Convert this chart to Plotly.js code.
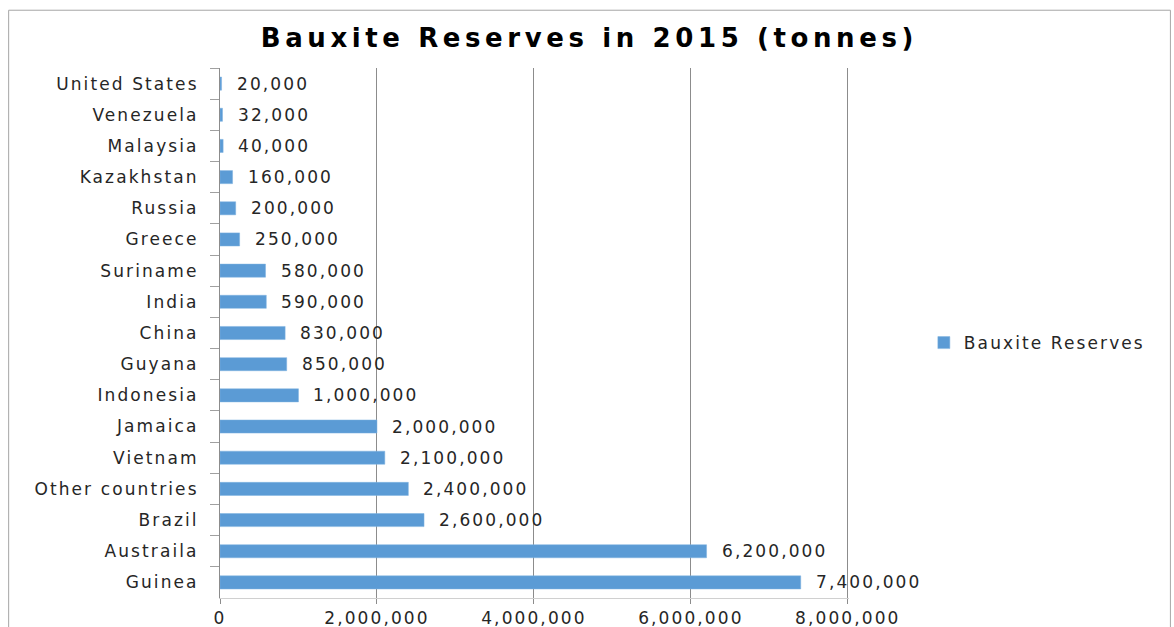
<!DOCTYPE html>
<html>
<head>
<meta charset="utf-8">
<script src="https://cdn.plot.ly/plotly-3.0.1.min.js"></script>
<style>
html,body{margin:0;padding:0;background:#fff}
#chart{width:1174px;height:627px}
.ytick text, .xtick text, text.annotation-text, text.legendtext { letter-spacing: 2.1px; }
text.gtitle { letter-spacing: 4.6px; }
</style>
</head>
<body>
<div id="chart"></div>
<script>
const countries = ["United States","Venezuela","Malaysia","Kazakhstan","Russia","Greece","Suriname","India","China","Guyana","Indonesia","Jamaica","Vietnam","Other countries","Brazil","Austraila","Guinea"];
const reserves = [20000,32000,40000,160000,200000,250000,580000,590000,830000,850000,1000000,2000000,2100000,2400000,2600000,6200000,7400000];
const xTickValues = [0,2000000,4000000,6000000,8000000];
const xTickLabels = ["0","2,000,000","4,000,000","6,000,000","8,000,000"];
const seriesName = "Bauxite Reserves";

const FONT = "DejaVu Sans, Verdana, sans-serif";
const fmt = v => v.toLocaleString("en-US");

const trace = {
  type: "bar",
  orientation: "h",
  x: reserves,
  y: countries,
  name: seriesName,
  marker: {color: "#5B9BD5", line: {color: "#7FB2E0", width: 0.5}},
  hoverinfo: "x+y"
};

const annotations = countries.map((c, i) => ({
  x: reserves[i], y: c, xref: "x", yref: "y",
  text: fmt(reserves[i]), showarrow: false,
  xanchor: "left", yanchor: "middle", xshift: 13,
  font: {family: FONT, size: 17, color: "#262626"}
}));

const layout = {
  width: 1174, height: 627,
  paper_bgcolor: "#fff", plot_bgcolor: "#fff",
  margin: {l: 220, r: 325, t: 68, b: 29, pad: 0},
  title: {text: "<b>Bauxite Reserves in 2015 (tonnes)</b>", x: 0.502, xanchor: "center", y: 0.94, yanchor: "middle",
          font: {family: FONT, size: 26, color: "#000"}},
  bargap: 0.58,
  showlegend: true,
  legend: {x: 1.119, y: 0.481, xanchor: "left", yanchor: "middle",
           font: {family: FONT, size: 17, color: "#262626"}, bgcolor: "rgba(0,0,0,0)"},
  xaxis: {
    range: [0, 8015000], tickvals: xTickValues, ticktext: xTickLabels,
    showgrid: true, gridcolor: "#8c8c8c", gridwidth: 1,
    zeroline: false, showline: true, linecolor: "#d0d0d0", linewidth: 1,
    ticks: "outside", ticklen: 5, tickcolor: "#8c8c8c",
    tickfont: {family: FONT, size: 17, color: "#262626"},
    fixedrange: true
  },
  yaxis: {
    type: "category", autorange: "reversed",
    showgrid: false, zeroline: false, showline: true, linecolor: "#8c8c8c", linewidth: 1,
    ticks: "outside", tickson: "boundaries", ticklen: 9, tickcolor: "#a0a0a0",
    ticklabelstandoff: 17,
    tickfont: {family: FONT, size: 17, color: "#262626"},
    fixedrange: true
  },
  annotations: annotations,
  shapes: [{type: "rect", xref: "paper", yref: "paper",
            x0: -0.336, x1: 1.511, y0: -0.3, y1: 1.109,
            line: {color: "#a6a6a6", width: 1}, fillcolor: "rgba(0,0,0,0)", layer: "below"}]
};

Plotly.newPlot("chart", [trace], layout, {displayModeBar: false, staticPlot: true});
</script>
</body>
</html>
